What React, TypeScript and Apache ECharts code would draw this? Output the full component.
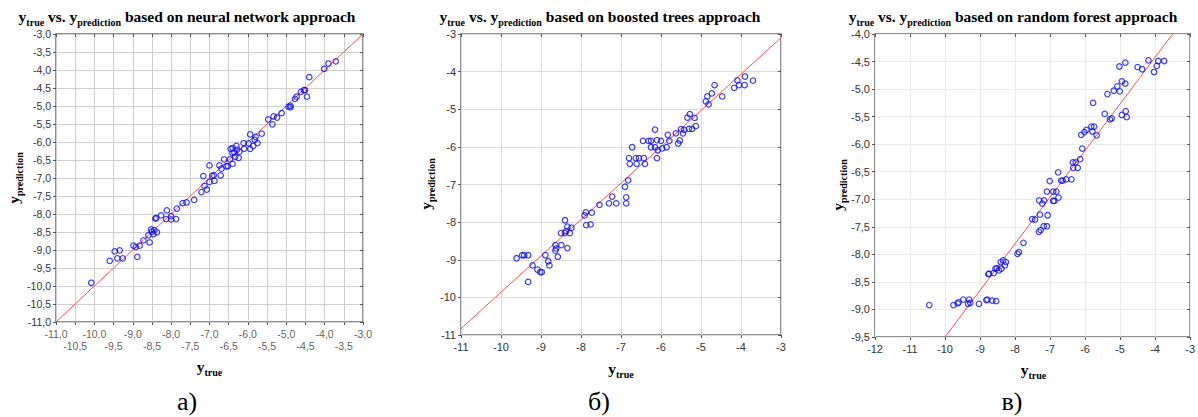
import React, { useEffect, useRef } from 'react';
import * as echarts from 'echarts';

// Panel a: neural network
const nnTrue = [-10.08, -9.60, -9.47, -9.34, -9.40, -9.26, -8.98, -8.92, -8.82, -8.88, -8.72, -8.56, -8.59, -8.52, -8.50, -8.44, -8.46, -8.37, -8.41, -8.39, -8.26, -8.11, -8.13, -8.00, -8.00, -7.87, -7.85, -7.70, -7.60, -7.40, -7.21, -7.13, -7.07, -7.16, -7.00, -7.00, -6.93, -6.87, -6.89, -6.71, -6.74, -6.69, -6.62, -6.56, -6.52, -6.47, -6.40, -6.40, -6.45, -6.40, -6.35, -6.33, -6.30, -6.28, -6.24, -6.22, -6.11, -6.10, -5.98, -5.94, -5.94, -5.86, -5.82, -5.80, -5.75, -5.64, -5.47, -5.36, -5.33, -5.24, -5.12, -4.94, -4.89, -4.89, -4.77, -4.73, -4.62, -4.54, -4.51, -4.46, -4.40, -4.01, -3.90, -3.71];
const nnPred = [-9.91, -9.30, -9.04, -9.01, -9.23, -9.23, -8.88, -8.92, -8.88, -9.19, -8.73, -8.79, -8.59, -8.43, -8.49, -8.45, -8.56, -8.51, -8.13, -8.11, -8.04, -7.90, -8.14, -8.06, -8.15, -8.14, -7.85, -7.70, -7.68, -7.61, -7.39, -7.22, -7.32, -6.95, -6.65, -7.11, -6.94, -7.08, -6.92, -6.93, -6.65, -6.74, -6.48, -6.68, -6.67, -6.48, -6.61, -6.31, -6.19, -6.17, -6.29, -6.41, -6.11, -6.21, -6.44, -6.27, -6.03, -6.19, -6.04, -5.79, -6.19, -6.11, -5.94, -5.86, -6.03, -5.77, -5.37, -5.51, -5.29, -5.32, -5.20, -5.02, -4.99, -5.04, -4.80, -4.74, -4.61, -4.56, -4.56, -4.74, -4.20, -3.97, -3.82, -3.76];
const nnFitX = [-11, -3];
const nnFitY = [-11, -3];
const nnXTicksRow1 = [-11, -10, -9, -8, -7, -6, -5, -4, -3];
const nnXTicksRow2 = [-10.5, -9.5, -8.5, -7.5, -6.5, -5.5, -4.5, -3.5];

// Panel b: boosted trees
const btTrue = [-9.61, -9.47, -9.42, -9.32, -9.32, -9.21, -9.09, -9.02, -8.98, -8.89, -8.82, -8.79, -8.64, -8.62, -8.64, -8.58, -8.49, -8.34, -8.40, -8.34, -8.50, -8.40, -8.37, -8.28, -8.24, -7.91, -7.88, -7.73, -7.87, -7.76, -7.54, -7.30, -7.22, -7.12, -6.90, -6.87, -6.87, -6.82, -6.80, -6.78, -6.72, -6.63, -6.61, -6.55, -6.45, -6.43, -6.40, -6.31, -6.25, -6.25, -6.15, -6.15, -6.10, -6.10, -6.08, -6.00, -5.97, -5.86, -5.83, -5.79, -5.63, -5.57, -5.53, -5.50, -5.45, -5.42, -5.34, -5.28, -5.30, -5.22, -5.16, -5.13, -4.88, -4.84, -4.81, -4.73, -4.66, -4.47, -4.17, -4.09, -4.05, -3.90, -3.91, -3.70];
const btPred = [-8.96, -8.88, -8.88, -8.88, -9.59, -9.15, -9.26, -9.33, -9.33, -8.88, -9.04, -9.15, -8.61, -8.70, -8.76, -8.92, -8.61, -8.69, -7.95, -8.12, -8.29, -8.29, -8.24, -8.29, -8.15, -7.82, -7.74, -7.75, -8.08, -8.06, -7.54, -7.50, -7.32, -7.50, -7.06, -7.34, -7.50, -6.89, -6.30, -6.45, -6.01, -6.30, -6.45, -6.30, -5.84, -6.30, -6.45, -5.84, -6.01, -5.84, -5.54, -6.01, -5.82, -6.30, -6.09, -5.84, -6.04, -6.01, -5.68, -5.84, -5.64, -5.91, -5.83, -5.53, -5.64, -5.55, -5.22, -5.13, -5.52, -5.52, -5.23, -5.45, -4.79, -4.66, -4.87, -4.58, -4.36, -4.66, -4.43, -4.23, -4.36, -4.13, -4.36, -4.24];
const btFitX = [-11, -3];
const btFitY = [-10.83, -3.1];

// Panel c: random forest
const rfTrue = [-10.45, -9.76, -9.64, -9.61, -9.48, -9.34, -9.31, -9.28, -9.03, -8.82, -8.79, -8.65, -8.54, -8.76, -8.74, -8.61, -8.56, -8.52, -8.46, -8.41, -8.34, -8.29, -8.26, -8.39, -7.93, -7.89, -7.76, -7.51, -7.43, -7.32, -7.27, -7.18, -7.09, -7.29, -7.07, -7.31, -7.22, -7.17, -7.09, -7.01, -6.91, -6.88, -6.91, -6.82, -6.76, -6.77, -6.68, -6.64, -6.54, -6.39, -6.35, -6.34, -6.27, -6.21, -6.14, -6.08, -6.11, -6.02, -5.96, -5.82, -5.79, -5.74, -5.67, -5.77, -5.44, -5.36, -5.29, -5.24, -5.18, -5.08, -5.01, -4.95, -4.85, -4.95, -4.84, -4.81, -5.02, -4.85, -4.50, -4.37, -4.19, -4.03, -3.95, -3.91, -3.74];
const rfPred = [-8.92, -8.92, -8.89, -8.87, -8.82, -8.90, -8.82, -8.88, -8.90, -8.83, -8.82, -8.84, -8.85, -8.36, -8.35, -8.34, -8.26, -8.25, -8.29, -8.14, -8.11, -8.20, -8.14, -8.26, -7.99, -7.96, -7.79, -7.36, -7.37, -7.59, -7.56, -7.49, -7.49, -7.28, -7.29, -7.02, -7.08, -7.02, -6.86, -6.67, -7.03, -7.03, -6.86, -6.86, -6.97, -6.51, -6.66, -6.66, -6.64, -6.64, -6.33, -6.43, -6.33, -6.43, -6.27, -6.08, -5.83, -5.78, -5.74, -5.68, -5.77, -5.68, -5.84, -5.25, -5.45, -5.09, -5.55, -5.53, -5.03, -4.95, -5.04, -4.86, -4.90, -5.47, -5.40, -5.51, -4.59, -4.52, -4.60, -4.64, -4.48, -4.69, -4.58, -4.49, -4.49];
const rfFitX = [-10, -3.5];
const rfFitY = [-9.5, -4.0];

const titles = [
  'based on neural network approach',
  'based on boosted trees approach',
  'based on random forest approach',
];
const panelLabels = ['а)', 'б)', 'в)'];

const serif = "'Liberation Serif', 'Times New Roman', serif";
const sans = "'Liberation Sans', Arial, sans-serif";

const zip = (a: number[], b: number[]) => a.map((v, i) => [v, b[i]]);

const rich = {
  m: { fontFamily: serif, fontWeight: 'bold', fontSize: 15.5, color: '#111', verticalAlign: 'bottom', padding: [0, 0, 3, 0] },
  s: { fontFamily: serif, fontWeight: 'bold', fontSize: 10, color: '#111', verticalAlign: 'bottom' },
};

const grids = [
  { left: 56, top: 34, width: 307, height: 288 },
  { left: 461, top: 34, width: 320, height: 301 },
  { left: 875, top: 34, width: 317, height: 303 },
];

const comma = (v: number) => v.toFixed(1).replace('.', ',');

export default function App() {
  const ref = useRef<HTMLDivElement>(null);
  useEffect(() => {
    if (!ref.current) return;
    const chart = echarts.init(ref.current, null, { renderer: 'svg' });

    const axisCfg = [
      {
        x: { min: -11, max: -3, interval: 0.5, fmt: comma, fs: 10.5, margin: 6 },
        y: { min: -11, max: -3, interval: 0.5, fmt: comma, fs: 10.5 },
        split: '#cfcfcf',
        stagger: true,
      },
      {
        x: { min: -11, max: -3, interval: 1, fmt: (v: number) => String(v), fs: 11, margin: 6 },
        y: { min: -11, max: -3, interval: 1, fmt: (v: number) => String(v), fs: 11 },
        split: '#dcdcdc',
        stagger: false,
      },
      {
        x: { min: -12, max: -3, interval: 1, fmt: (v: number) => String(v), fs: 11, margin: 6 },
        y: { min: -9.5, max: -4, interval: 0.5, fmt: comma, fs: 11 },
        split: '#ebebeb',
        stagger: false,
      },
    ];

    const tick = { show: true, length: 3, inside: false, lineStyle: { color: '#555' } };
    const xAxis: any[] = [];
    const yAxis: any[] = [];
    axisCfg.forEach((c, i) => {
      xAxis.push({
        type: 'value', gridIndex: i, position: 'bottom', min: c.x.min, max: c.x.max, interval: c.x.interval,
        axisLine: { show: false },
        axisTick: tick,
        axisLabel: {
          show: !c.stagger,
          formatter: c.x.fmt, fontSize: c.x.fs, fontFamily: sans, color: '#333', margin: c.x.margin,
          hideOverlap: false,
        },
        splitLine: { show: true, lineStyle: { color: c.split, width: 1 } },
      });
      yAxis.push({
        type: 'value', gridIndex: i, position: 'left', min: c.y.min, max: c.y.max, interval: c.y.interval,
        axisLine: { show: false },
        axisTick: tick,
        axisLabel: { formatter: c.y.fmt, fontSize: c.y.fs, fontFamily: sans, color: '#333', margin: 5, hideOverlap: false },
        splitLine: { show: true, lineStyle: { color: c.split, width: 1 } },
      });
    });
    // mirrored axes (inner ticks on top and right)
    axisCfg.forEach((c, i) => {
      xAxis.push({
        type: 'value', gridIndex: i, position: 'top', min: c.x.min, max: c.x.max, interval: c.x.interval,
        axisLine: { show: false },
        axisTick: { show: true, length: 3, inside: true, lineStyle: { color: '#555' } },
        axisLabel: { show: false },
        splitLine: { show: false },
      });
      yAxis.push({
        type: 'value', gridIndex: i, position: 'right', min: c.y.min, max: c.y.max, interval: c.y.interval,
        axisLine: { show: false },
        axisTick: { show: true, length: 3, inside: true, lineStyle: { color: '#555' } },
        axisLabel: { show: false },
        splitLine: { show: false },
      });
    });

    const sets = [
      { pts: zip(nnTrue, nnPred), fit: zip(nnFitX, nnFitY) },
      { pts: zip(btTrue, btPred), fit: zip(btFitX, btFitY) },
      { pts: zip(rfTrue, rfPred), fit: zip(rfFitX, rfFitY) },
    ];
    const series: any[] = [];
    sets.forEach((s, i) => {
      series.push({
        type: 'line', xAxisIndex: i, yAxisIndex: i, data: s.fit, symbol: 'none',
        lineStyle: { color: '#ff4d4d', width: 1 }, silent: true, z: 2,
      });
      series.push({
        type: 'scatter', xAxisIndex: i, yAxisIndex: i, data: s.pts, symbol: 'circle', symbolSize: 5.5,
        itemStyle: { color: 'rgba(0,0,0,0)', borderColor: '#0a0aff', borderWidth: 1.2 }, silent: true, z: 3,
      });
    });

    // staggered x tick labels of panel a, placed at the tick values through the axis scale
    const yMinA = axisCfg[0].y.min;
    [nnXTicksRow1, nnXTicksRow2].forEach((vals, r) => {
      series.push({
        type: 'scatter', xAxisIndex: 0, yAxisIndex: 0, clip: false, silent: true, z: 5,
        data: vals.map((v) => [v, yMinA]),
        symbol: 'circle', symbolSize: 1,
        itemStyle: { color: 'rgba(0,0,0,0)' },
        label: {
          show: true, position: 'bottom', distance: r === 0 ? 6 : 18,
          formatter: (p: any) => comma(p.value[0]),
          fontSize: 10.5, fontFamily: sans, color: '#333',
        },
        labelLayout: { hideOverlap: false },
      });
    });

    const titleX = [187, 600, 1013];
    const xNameX = [209.5, 621, 1033.5];
    const xNameY = [368, 370, 371];
    const yNameX = [15, 427, 839];
    const yNameY = [178, 184, 185];
    const labelX = [187, 599, 1012];

    const graphic: any[] = [];
    for (let i = 0; i < 3; i++) {
      graphic.push({
        type: 'text', x: titleX[i], y: 18,
        style: { text: `{m|y}{s|true}{m| vs. y}{s|prediction}{m| ${titles[i]}}`, rich, align: 'center', verticalAlign: 'middle' },
      });
      graphic.push({
        type: 'text', x: xNameX[i], y: xNameY[i],
        style: { text: '{m|y}{s|true}', rich, align: 'center', verticalAlign: 'middle' },
      });
      graphic.push({
        type: 'text', x: yNameX[i], y: yNameY[i], rotation: Math.PI / 2,
        style: { text: '{m|y}{s|prediction}', rich, align: 'center', verticalAlign: 'middle' },
      });
      graphic.push({
        type: 'text', x: labelX[i], y: 401,
        style: { text: panelLabels[i], font: `26px ${serif}`, fill: '#000', align: 'center', verticalAlign: 'middle' },
      });
    }

    chart.setOption({
      animation: false,
      backgroundColor: '#fff',
      grid: grids.map((g) => ({ ...g, show: true, borderColor: '#6e6e6e', borderWidth: 1.5, backgroundColor: 'transparent' })),
      xAxis,
      yAxis,
      series,
      graphic,
    });
    return () => chart.dispose();
  }, []);
  return <div ref={ref} style={{ position: 'absolute', left: 0, top: 0, width: 1198, height: 417, background: '#fff' }} />;
}
